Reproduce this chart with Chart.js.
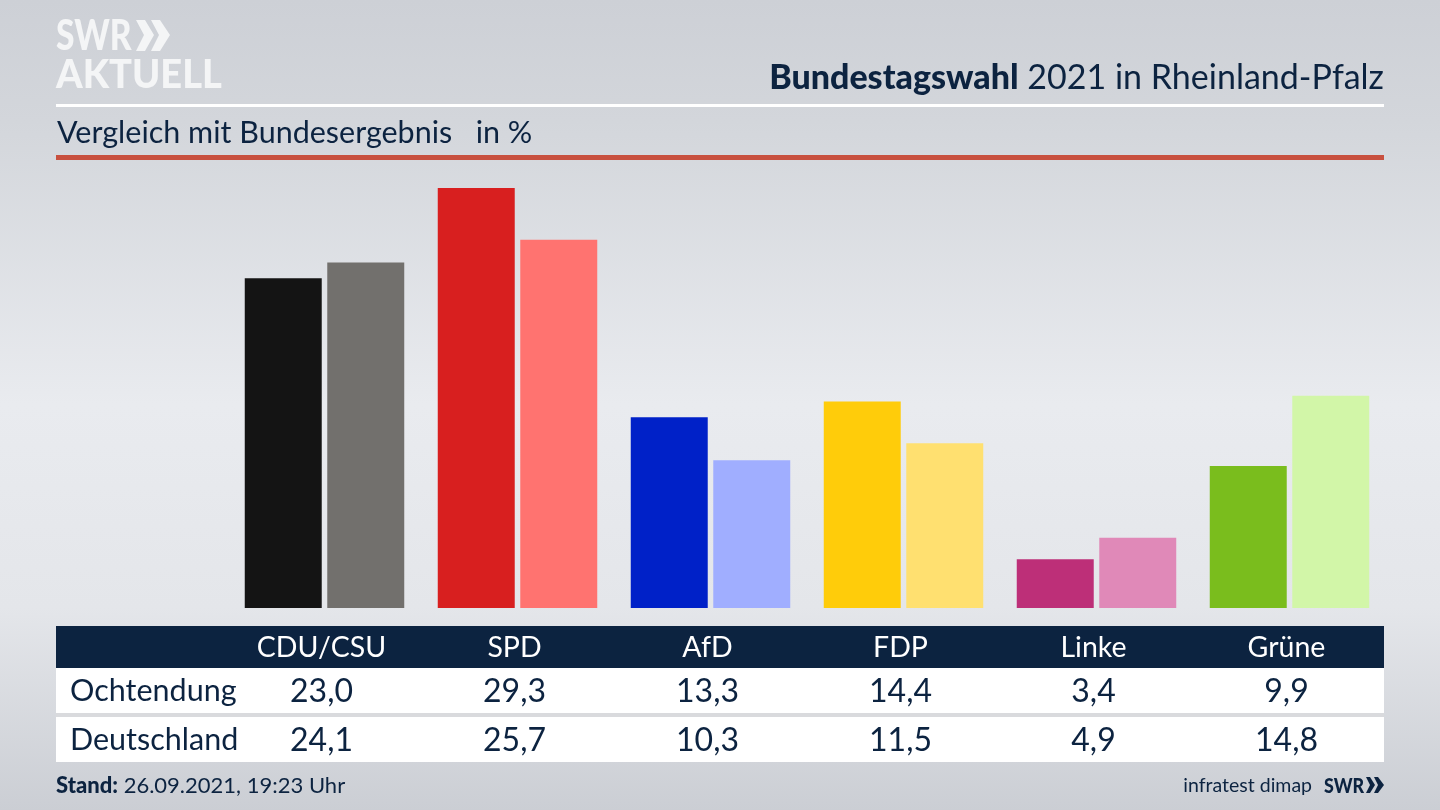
<!DOCTYPE html>
<html lang="de">
<head>
<meta charset="utf-8">
<title>Bundestagswahl 2021 in Rheinland-Pfalz</title>
<script src="https://cdn.jsdelivr.net/npm/chart.js@4"></script>
<style>
html, body { margin: 0; padding: 0; }
body {
    width: 1440px; height: 810px; overflow: hidden; position: relative;
    background: linear-gradient(180deg, #cdd0d6 0%, #d3d6db 15%, #e9ebef 50%, #e4e6ea 75%, #cbced4 100%);
    font-family: Lato, sans-serif; color: #0c2340;
}
canvas { position: absolute; left: 0; top: 0; }
.txt { position: absolute; white-space: pre; line-height: 1; transform-origin: left top; }
.rule { position: absolute; left: 56px; width: 1328px; }
</style>
</head>
<body>
<canvas id="myChart" width="1440" height="810"></canvas>

<div class="txt" id="logo1" style="left:56px;top:13px;font-size:42px;font-weight:900;color:#f4f5f6;transform:scaleX(.8)">SWR</div>
<svg style="position:absolute;left:136px;top:20px" width="36" height="32"><path d="M0 0h9l9 15-9 16H0l8-16zM15 0h9l10 15-10 16h-9l8-16z" fill="#f4f5f6"/></svg>
<div class="txt" id="logo2" style="left:56px;top:53px;font-size:40px;font-weight:900;color:#f4f5f6;transform:scaleX(.95)">AKTUELL</div>

<div class="txt" style="right:56px;top:59px;font-size:34px"><b style="font-weight:900">Bundestagswahl</b> 2021 in Rheinland-Pfalz</div>
<div class="rule" style="top:104px;height:3px;background:#fff"></div>
<div class="txt" style="left:57px;top:116px;font-size:30.5px">Vergleich mit Bundesergebnis   in %</div>
<div class="rule" style="top:155px;height:5px;background:#c8503f"></div>

<div class="txt" style="left:56px;top:774px;font-size:22px"><b style="font-weight:900">Stand:</b> 26.09.2021, 19:23 Uhr</div>
<div class="txt" style="right:128px;top:775px;font-size:19.5px">infratest dimap</div>
<div class="txt" style="left:1324px;top:774px;font-size:21px;font-weight:900;transform:scaleX(.85)">SWR</div>
<svg style="position:absolute;left:1366px;top:777px" width="18" height="16"><path d="M0 0h4l5 8-5 8H0l4-8zM8 0h4l6 8-6 8H8l4-8z" fill="#0c2340"/></svg>

<script>
const categories = ['CDU/CSU', 'SPD', 'AfD', 'FDP', 'Linke', 'Grüne'];
const seriesNames = ['Ochtendung', 'Deutschland'];
const ochtendung = [23.0, 29.3, 13.3, 14.4, 3.4, 9.9];
const deutschland = [24.1, 25.7, 10.3, 11.5, 4.9, 14.8];
const coloursOchtendung = ['#141414', '#d81f1f', '#0021c8', '#ffcc0a', '#bd2f78', '#7abd1d'];
const coloursDeutschland = ['#72706d', '#ff7370', '#a0aeff', '#ffe070', '#e089b8', '#d2f6a8'];

const navy = '#0c2340';

function komma(v){
    return v.toFixed(1).replace('.', ',');
}

// Tabelle unter den Balken, Spalten kommen von der x-Achse
const tablePlugin = {
    id: 'tablePlugin',
    afterDraw(chart){
        const ctx = chart.ctx;
        const x = chart.scales.x;
        ctx.save();
        ctx.fillStyle = navy;
        ctx.fillRect(56, 626, 1328, 42);
        ctx.fillStyle = '#fff';
        ctx.fillRect(56, 668, 1328, 45);
        ctx.fillStyle = '#d9dadd';
        ctx.fillRect(56, 713, 1328, 4);
        ctx.fillStyle = '#fff';
        ctx.fillRect(56, 717, 1328, 45);

        ctx.textBaseline = 'alphabetic';
        ctx.font = '30.5px Lato';
        ctx.textAlign = 'left';
        ctx.fillStyle = navy;
        ctx.fillText(seriesNames[0], 70, 701);
        ctx.fillText(seriesNames[1], 70, 750);

        ctx.textAlign = 'center';
        categories.forEach((cat, i)=>{
            const cx = x.getPixelForValue(i) - 3;
            ctx.font = '28.5px Lato';
            ctx.fillStyle = '#fff';
            ctx.fillText(cat, cx, 657);
            ctx.font = '32px Lato';
            ctx.fillStyle = navy;
            ctx.fillText(komma(ochtendung[i]), cx, 702);
            ctx.fillText(komma(deutschland[i]), cx, 751);
        });
        ctx.restore();
    }
};

new Chart(document.getElementById('myChart').getContext('2d'), {
    type: 'bar',
    data: {
        labels: categories,
        datasets: [
            { label: seriesNames[0], data: ochtendung, backgroundColor: coloursOchtendung },
            { label: seriesNames[1], data: deutschland, backgroundColor: coloursDeutschland }
        ]
    },
    options: {
        responsive: false,
        animation: false,
        devicePixelRatio: 1,
        layout: { padding: { left: 228, right: 54, top: 178, bottom: 202 } },
        datasets: { bar: { categoryPercentage: 0.855, barPercentage: 0.933 } },
        plugins: { legend: { display: false }, tooltip: { enabled: false } },
        scales: {
            x: { display: false },
            y: { display: false, min: 0, max: 30 }
        }
    },
    plugins: [tablePlugin]
});
</script>
</body>
</html>
